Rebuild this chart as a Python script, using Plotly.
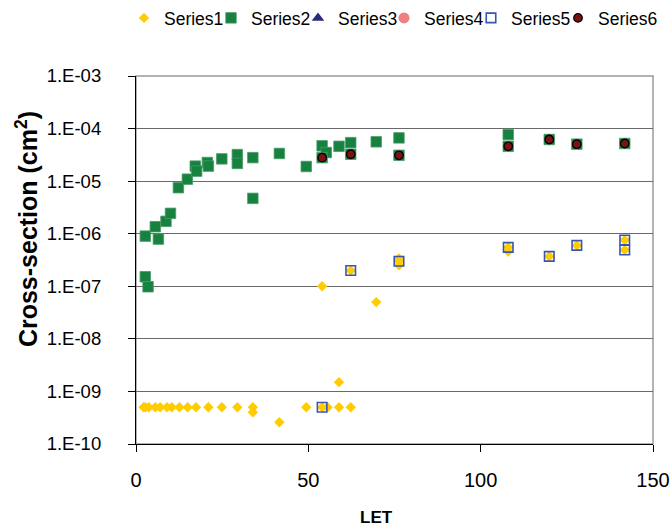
import plotly.graph_objects as go

# ---- data ----
s1_let = [2.2, 2.7, 3.7, 5.6, 7.0, 9.0, 10.4, 12.6, 15.0, 17.4, 21.0, 24.9, 29.4, 33.9,
          33.9, 41.6, 49.4, 54.0, 55.6, 58.9, 58.9, 62.3,
          54.0, 62.3, 69.7, 76.3, 76.3, 76.3, 108.0, 108.0, 119.9, 127.9, 141.8, 141.8]
s1_xs = [5e-10, 5e-10, 5e-10, 5e-10, 5e-10, 5e-10, 5e-10, 5e-10, 5e-10, 5e-10, 5e-10, 5e-10, 5e-10, 5e-10,
         4e-10, 2.6e-10, 5e-10, 5e-10, 5e-10, 5e-10, 1.5e-9, 5e-10,
         1e-7, 2e-7, 5e-8, 3.4e-7, 2.5e-7, 3e-7, 5.5e-7, 4.6e-7, 3.7e-7, 6e-7, 7.6e-7, 4.9e-7]

s2_let = [2.7, 5.6, 6.5, 8.7, 10.0, 12.3, 14.9, 17.2, 17.6, 20.7, 21.0, 24.9, 29.4, 29.4,
          33.9, 33.9, 41.6, 49.4, 54.0, 55.2, 54.0, 58.9, 62.3, 62.3, 69.7, 76.3, 76.3,
          108.0, 108.0, 119.9, 127.9, 141.8, 2.7, 3.5]
s2_xs = [9.0e-7, 1.36e-6, 7.9e-7, 1.72e-6, 2.44e-6, 7.5e-6, 1.09e-5, 1.93e-5, 1.55e-5, 2.26e-5, 1.93e-5,
         2.65e-5, 3.2e-5, 2.17e-5, 2.8e-5, 4.7e-6, 3.36e-5, 1.9e-5, 4.7e-5, 3.5e-5, 2.8e-5, 4.6e-5,
         5.4e-5, 3.25e-5, 5.6e-5, 6.65e-5, 3.1e-5, 7.7e-5, 4.6e-5, 6.2e-5, 5.05e-5, 5.2e-5, 1.52e-7, 9.8e-8]

s3_let = []
s3_xs = []
s4_let = []
s4_xs = []

s5_let = [54.0, 62.3, 76.3, 108.0, 119.9, 127.9, 141.8, 141.8]
s5_xs = [5e-10, 2e-7, 3e-7, 5.5e-7, 3.7e-7, 6e-7, 7.6e-7, 4.9e-7]

s6_let = [54.0, 62.3, 76.3, 108.0, 119.9, 127.9, 141.8]
s6_xs = [2.8e-5, 3.25e-5, 3.1e-5, 4.6e-5, 6.2e-5, 5.05e-5, 5.2e-5]

y_tickvals = [1e-10, 1e-9, 1e-8, 1e-7, 1e-6, 1e-5, 1e-4, 1e-3]
y_ticktext = ["1.E-10", "1.E-09", "1.E-08", "1.E-07", "1.E-06", "1.E-05", "1.E-04", "1.E-03"]

x_title = "LET"
y_title = "Cross-section (cm<sup>2</sup>)"

FONT = "Arial, Liberation Sans, sans-serif"
W, H = 672, 527

fig = go.Figure()

def pts(v):
    return v if len(v) else [None]

fig.add_trace(go.Scatter(x=s1_let, y=s1_xs, mode="markers", name="Series1", legend="legend",
                         marker=dict(symbol="diamond", size=8, color="#FFCC00", line=dict(width=0))))
fig.add_trace(go.Scatter(x=s2_let, y=s2_xs, mode="markers", name="Series2", legend="legend",
                         marker=dict(symbol="square", size=10.5, color="#178240",
                                     line=dict(width=0.8, color="#4a9a68"))))
fig.add_trace(go.Scatter(x=pts(s3_let), y=pts(s3_xs), mode="markers", name="Series3", legend="legend",
                         legendwidth=64,
                         marker=dict(symbol="triangle-up", size=11, color="#2B2B7E")))
fig.add_trace(go.Scatter(x=pts(s4_let), y=pts(s4_xs), mode="markers", name="Series4", legend="legend2",
                         marker=dict(symbol="circle", size=11, color="#F08080")))
fig.add_trace(go.Scatter(x=s5_let, y=s5_xs, mode="markers", name="Series5", legend="legend2",
                         marker=dict(symbol="square-open", size=9.5, color="#3A55B0",
                                     line=dict(width=1.6))))
fig.add_trace(go.Scatter(x=s6_let, y=s6_xs, mode="markers", name="Series6", legend="legend2",
                         legendwidth=64,
                         marker=dict(symbol="circle", size=8.5, color="#7A1414",
                                     line=dict(width=1.3, color="#000000"))))

legend_common = dict(orientation="h", xref="container", yref="container",
                     xanchor="left", y=1, yanchor="top",
                     font=dict(size=17.5), itemwidth=30, entrywidth=42, entrywidthmode="pixels",
                     bgcolor="rgba(0,0,0,0)")

fig.update_layout(
    width=W, height=H,
    margin=dict(l=136, r=19, t=76, b=83),
    paper_bgcolor="white", plot_bgcolor="white",
    font=dict(family=FONT, size=18, color="#000000"),
    showlegend=True,
    legend=dict(x=124 / W, **legend_common),
    legend2=dict(x=384 / W, **legend_common),
    shapes=[dict(type="rect", xref="paper", yref="paper", x0=0, y0=0, x1=1, y1=1,
                 line=dict(color="#9a9a9a", width=1.5), layer="below")],
    annotations=[
        dict(text="<b>" + y_title + "</b>", xref="paper", yref="paper",
             x=-0.212, y=0.585, textangle=-90, showarrow=False,
             font=dict(size=25), xanchor="center", yanchor="middle"),
        dict(text="<b>" + x_title + "</b>", xref="paper", yref="paper",
             x=0.466, y=-0.2, showarrow=False,
             font=dict(size=17), xanchor="center", yanchor="middle"),
    ],
)

fig.update_xaxes(range=[0, 150], dtick=50, tick0=0, showgrid=False, zeroline=False,
                 showline=True, linecolor="#000000", linewidth=1.2,
                 ticks="outside", ticklen=7, tickcolor="#000000",
                 tickfont=dict(size=20), ticklabelstandoff=11, automargin=False)
fig.update_yaxes(type="log", range=[-10, -3], tickvals=y_tickvals, ticktext=y_ticktext,
                 showgrid=True, gridcolor="#6a6a6a", gridwidth=1.2, zeroline=False,
                 showline=True, linecolor="#000000", linewidth=1.2,
                 ticks="outside", ticklen=7, tickcolor="#000000",
                 tickfont=dict(size=18.5), ticklabelstandoff=23, automargin=False)

# remove the page's default 8px body margin so the figure fills the window exactly
fig.write_html("out.html", config={"displayModeBar": False},
               post_script="document.body.style.margin='0';document.body.style.overflow='hidden';")
